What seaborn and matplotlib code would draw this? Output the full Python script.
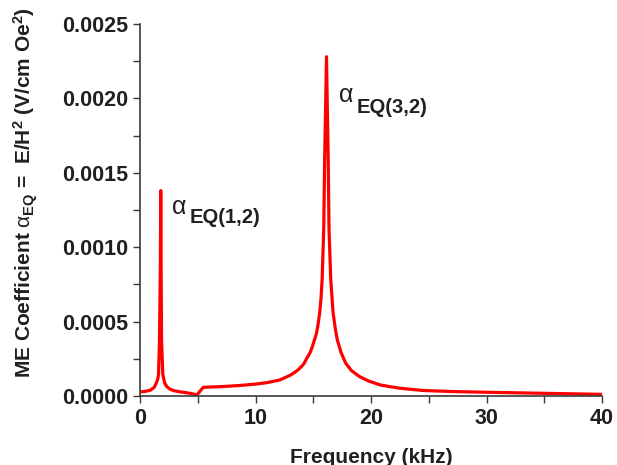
import matplotlib
matplotlib.use('Agg')
import matplotlib.pyplot as plt
import seaborn as sns
import pandas as pd
from matplotlib.ticker import MultipleLocator

# values
freq_khz = [0.1, 0.5, 0.9, 1.2, 1.4, 1.5, 1.58, 1.66, 1.74, 1.77, 1.80, 1.84,
            1.95, 2.1, 2.3, 2.6, 2.9, 3.5, 4.0, 4.5, 4.9, 5.45, 6.0, 7.0, 8.5,
            10.0, 11.0, 12.1, 13.0, 13.5, 13.8, 14.16, 14.4, 14.7, 14.9, 15.1,
            15.26, 15.4, 15.54, 15.65, 15.75, 15.89, 15.97, 16.13, 16.28,
            16.35, 16.5, 16.7, 16.9, 17.06, 17.4, 17.8, 18.3, 19.0, 19.8,
            20.8, 21.6, 22.5, 24.5, 27.0, 30.0, 35.0, 40.0]
alpha_eq = [0.000028, 0.000032, 0.000040, 0.000058, 0.00009, 0.00011, 0.000145,
            0.00037, 0.0009, 0.00138, 0.0009, 0.00037, 0.000145, 0.00009,
            0.000062, 0.000045, 0.000036, 0.000027, 0.000022, 0.000015,
            0.000007, 0.000058, 0.00006, 0.000063, 0.00007, 0.00008, 0.00009,
            0.000108, 0.00014, 0.000165, 0.000185, 0.000215, 0.00025, 0.00029,
            0.00033, 0.00038, 0.00042, 0.00048, 0.00056, 0.00065, 0.00078,
            0.00112, 0.00158, 0.00228, 0.00158, 0.00112, 0.00078, 0.00056,
            0.00045, 0.00038, 0.00029, 0.00022, 0.00017, 0.00013, 0.0001,
            0.000074, 0.000063, 0.000052, 0.000037, 0.00003, 0.000025,
            0.000018, 0.000011]

x_ticks = [0, 10, 20, 30, 40]
y_ticks = [0.0, 0.0005, 0.0010, 0.0015, 0.0020, 0.0025]
y_tick_labels = ['0.0000', '0.0005', '0.0010', '0.0015', '0.0020', '0.0025']

peak_subs = ['EQ(1,2)', 'EQ(3,2)']
alpha_pos = [(2.75, 0.00127), (17.2, 0.00202)]
sub_pos = [(4.25, 0.00120), (18.7, 0.00194)]

sns.set_style('ticks')
plt.rcParams['font.family'] = ['Liberation Sans', 'DejaVu Sans']
plt.rcParams['mathtext.fontset'] = 'custom'
plt.rcParams['mathtext.rm'] = 'Liberation Sans'
plt.rcParams['mathtext.it'] = 'Liberation Sans'
plt.rcParams['mathtext.bf'] = 'Liberation Sans:bold'

ink = '#231f20'
axis_col = '#3a3a3a'

df = pd.DataFrame({'freq': freq_khz, 'alpha': alpha_eq})

fig = plt.figure(figsize=(6.17, 4.65), dpi=100)
ax = fig.add_axes([0.2274, 0.1484, 0.7483, 0.80])
sns.lineplot(data=df, x='freq', y='alpha', color='#ff0000', linewidth=2.3,
             estimator=None, ax=ax)

ax.set_xlim(0, 40)
ax.set_ylim(0, 0.0025)
ax.set_xticks(x_ticks)
ax.set_xticklabels([str(t) for t in x_ticks])
ax.set_yticks(y_ticks)
ax.set_yticklabels(y_tick_labels)
ax.xaxis.set_minor_locator(MultipleLocator(5))
ax.yaxis.set_minor_locator(MultipleLocator(0.00025))
ax.tick_params(which='both', direction='out', length=5, width=1,
               color=axis_col, labelcolor=ink, labelsize=15.5, pad=4)
for lab in ax.get_xticklabels() + ax.get_yticklabels():
    lab.set_fontweight('bold')

sns.despine(ax=ax)
for s in ['left', 'bottom']:
    ax.spines[s].set_color(axis_col)
    ax.spines[s].set_linewidth(1.2)

ax.set_xlabel('Frequency (kHz)', fontsize=15, fontweight='bold', color=ink,
              labelpad=13)
ax.set_ylabel(r'ME Coefficient $\alpha_{\mathbf{EQ}}$ =  E/H$^{\mathbf{2}}$ (V/cm Oe$^{\mathbf{2}}$)',
              fontsize=15, fontweight='bold', color=ink, va='center')
ax.yaxis.set_label_coords(-0.247, 0.546)

for (ax_, ay_), (sx, sy), sub in zip(alpha_pos, sub_pos, peak_subs):
    ax.text(ax_, ay_, 'α', fontsize=18, color=ink, ha='left', va='center')
    ax.text(sx, sy, sub, fontsize=14.5, fontweight='bold', color=ink,
            ha='left', va='center')

fig.savefig('out.png', dpi=100)
